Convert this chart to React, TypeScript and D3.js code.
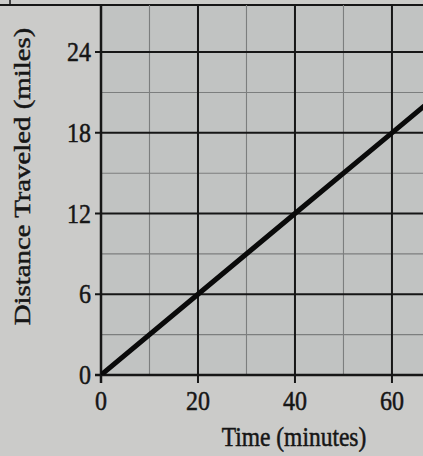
import React from "react";
import * as d3 from "d3";

const times = [0, 20, 40, 60, 70];
const distances = [0, 6, 12, 18, 21];
const xTicks = [0, 20, 40, 60];
const yTicks = [0, 6, 12, 18, 24];
const xGrid = [0, 10, 20, 30, 40, 50, 60];
const yGrid = [0, 3, 6, 9, 12, 15, 18, 21, 24];
const xTitle = "Time (minutes)";
const yTitle = "Distance Traveled (miles)";

const W = 423;
const H = 456;

export default function App() {
  const x = d3.scaleLinear().domain([0, 66.4]).range([101, 423]);
  const y = d3.scaleLinear().domain([0, 27.5]).range([375, 5]);
  const pts = times.map((t, i) => [t, distances[i]] as [number, number]);
  const line = d3
    .line<[number, number]>()
    .x((d) => x(d[0]))
    .y((d) => y(d[1]));
  const font = "'Liberation Serif', 'DejaVu Serif', serif";
  const ink = "#161616";
  const textStroke = { stroke: ink, strokeWidth: 0.45 };
  return (
    <svg
      width={W}
      height={H}
      style={{ position: "absolute", left: 0, top: 0, display: "block" }}
    >
      <defs>
        <clipPath id="plot">
          <rect x={x(0)} y={y(27.5)} width={W - x(0)} height={y(0) - y(27.5)} />
        </clipPath>
      </defs>
      <rect x={0} y={0} width={W} height={H} fill="#cbcbc9" />
      <rect
        x={x(0)}
        y={y(27.5)}
        width={W - x(0)}
        height={y(0) - y(27.5)}
        fill="#c1c3c2"
      />
      {/* frame line at top */}
      <line x1={0} x2={W} y1={5} y2={5} stroke={ink} strokeWidth={2} />
      <line x1={10} x2={10} y1={0} y2={5} stroke={ink} strokeWidth={1.5} />
      {/* minor grid */}
      {xGrid
        .filter((v) => v % 20 !== 0)
        .map((v) => (
          <line
            key={"xm" + v}
            x1={x(v)}
            x2={x(v)}
            y1={y(0)}
            y2={y(27.5)}
            stroke="#7c7e7e"
            strokeWidth={1.1}
          />
        ))}
      {yGrid
        .filter((v) => v % 6 !== 0)
        .map((v) => (
          <line
            key={"ym" + v}
            x1={x(0)}
            x2={W}
            y1={y(v)}
            y2={y(v)}
            stroke="#7c7e7e"
            strokeWidth={1.1}
          />
        ))}
      {/* major grid */}
      {xTicks.map((v) => (
        <line
          key={"xM" + v}
          x1={x(v)}
          x2={x(v)}
          y1={y(0) + 8}
          y2={y(27.5)}
          stroke={ink}
          strokeWidth={v === 0 ? 2.5 : 2}
        />
      ))}
      {yTicks.map((v) => (
        <line
          key={"yM" + v}
          x1={x(0) - 6}
          x2={W}
          y1={y(v)}
          y2={y(v)}
          stroke={ink}
          strokeWidth={v === 0 ? 2.5 : 2}
        />
      ))}
      {/* data line */}
      <g clipPath="url(#plot)">
        <path
          d={line(pts) || ""}
          fill="none"
          stroke="#0a0a0a"
          strokeWidth={5}
          strokeLinecap="round"
        />
      </g>
      {/* tick labels */}
      {yTicks.map((v) => (
        <text
          key={"yl" + v}
          transform={`translate(${91}, ${y(v) + 9}) scale(1,1.18)`}
          textAnchor="end"
          fontFamily={font}
          fontSize={24}
          fill={ink}
          {...textStroke}
        >
          {v}
        </text>
      ))}
      {xTicks.map((v) => (
        <text
          key={"xl" + v}
          transform={`translate(${x(v)}, ${410}) scale(1,1.18)`}
          textAnchor="middle"
          fontFamily={font}
          fontSize={24}
          fill={ink}
          {...textStroke}
        >
          {v}
        </text>
      ))}
      {/* axis titles */}
      <text
        transform={`translate(294, 446) scale(1,1.15)`}
        textAnchor="middle"
        fontFamily={font}
        fontSize={23.5}
        fill={ink}
        {...textStroke}
      >
        {xTitle}
      </text>
      <text
        transform={`translate(30, 176.5) rotate(-90) scale(1.2,1)`}
        textAnchor="middle"
        fontFamily={font}
        fontSize={24}
        fill={ink}
        {...textStroke}
      >
        {yTitle}
      </text>
    </svg>
  );
}
